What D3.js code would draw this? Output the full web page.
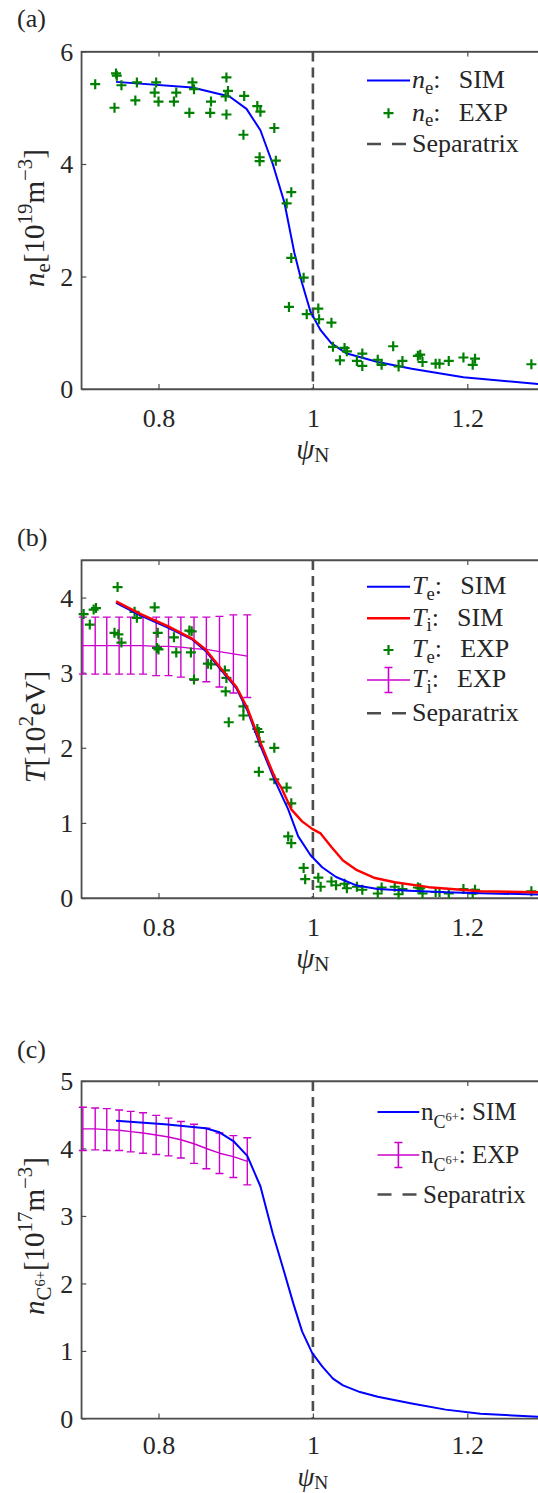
<!DOCTYPE html>
<html lang="en">
<head>
  <meta charset="utf-8">
  <title>Profiles SIM vs EXP</title>
  <script src="https://d3js.org/d3.v7.min.js"></script>
  <style>
    body { margin: 0; background: #fff; }
    svg text { font-family: "Liberation Serif", "DejaVu Serif", serif !important; fill: #262626; }
  </style>
</head>
<body>
  <svg id="fig" width="538" height="1493" font-family="Liberation Serif, DejaVu Serif, serif"></svg>

  <script>
    // ---- data: panel (a) electron density
    var neSimX = [0.745, 0.844, 0.892, 0.914, 0.932, 0.948, 0.963, 0.976, 0.986, 0.997, 1.010, 1.024, 1.044, 1.084, 1.128, 1.195, 1.300];
    var neSimY = [5.46, 5.36, 5.20, 4.98, 4.60, 4.00, 3.32, 2.42, 1.88, 1.37, 1.045, 0.81, 0.63, 0.48, 0.36, 0.21, 0.08];
    var neExpX = [0.718, 0.745, 0.746, 0.752, 0.743, 0.772, 0.770, 0.797, 0.795, 0.800, 0.823, 0.820, 0.840, 0.844, 0.846,
      0.868, 0.867, 0.888, 0.890, 0.887, 0.888, 0.911, 0.910, 0.928, 0.932, 0.950, 0.931, 0.931, 0.952, 0.972, 0.966,
      0.972, 0.988, 0.969, 0.992, 1.007, 1.008, 1.024, 1.026, 1.041, 1.044, 1.035, 1.057, 1.064, 1.064, 1.084, 1.089,
      1.104, 1.111, 1.116, 1.136, 1.139, 1.142, 1.159, 1.164, 1.176, 1.195, 1.210, 1.207, 1.283];
    var neExpY = [5.42, 5.61, 5.57, 5.40, 5.00, 5.45, 5.13, 5.45, 5.27, 5.11, 5.27, 5.11, 4.91, 5.45, 5.33,
      5.11, 4.91, 5.54, 5.30, 5.20, 4.88, 5.21, 4.52, 5.03, 4.93, 4.64, 4.12, 4.05, 4.06, 3.50, 3.30,
      2.33, 1.98, 1.46, 1.33, 1.43, 1.24, 1.18, 0.75, 0.73, 0.67, 0.51, 0.50, 0.63, 0.41, 0.52, 0.43,
      0.76, 0.40, 0.50, 0.59, 0.61, 0.48, 0.45, 0.45, 0.50, 0.56, 0.54, 0.43, 0.44];

    // ---- data: panel (b) temperatures
    var teSimX = [0.745, 0.777, 0.812, 0.844, 0.861, 0.879, 0.901, 0.915, 0.932, 0.950, 0.968, 0.981, 0.997, 1.012, 1.030, 1.057, 1.084, 1.125, 1.172, 1.230, 1.300];
    var teSimY = [3.93, 3.76, 3.60, 3.44, 3.29, 3.06, 2.79, 2.50, 2.03, 1.58, 1.18, 0.82, 0.57, 0.41, 0.28, 0.165, 0.12, 0.095, 0.077, 0.06, 0.045];
    var tiSimX = [0.745, 0.777, 0.812, 0.844, 0.861, 0.879, 0.901, 0.915, 0.932, 0.950, 0.959, 0.972, 0.986, 0.999, 1.010, 1.024, 1.039, 1.057, 1.079, 1.106, 1.150, 1.217, 1.300];
    var tiSimY = [3.95, 3.78, 3.62, 3.45, 3.31, 3.08, 2.81, 2.53, 2.07, 1.62, 1.47, 1.18, 1.02, 0.92, 0.86, 0.68, 0.50, 0.37, 0.27, 0.21, 0.144, 0.09, 0.075];
    var teExpX = [0.703, 0.711, 0.719, 0.716, 0.747, 0.743, 0.748, 0.752, 0.769, 0.772, 0.795, 0.799, 0.798, 0.800, 0.820,
      0.823, 0.840, 0.843, 0.842, 0.846, 0.864, 0.868, 0.886, 0.888, 0.887, 0.910, 0.910, 0.891, 0.928, 0.930, 0.931,
      0.950, 0.930, 0.950, 0.966, 0.972, 0.968, 0.972, 0.988, 0.990, 1.007, 1.010, 1.024, 1.030, 1.041, 1.044, 1.057,
      1.064, 1.084, 1.089, 1.106, 1.111, 1.116, 1.136, 1.139, 1.142, 1.159, 1.164, 1.176, 1.195, 1.210, 1.207, 1.283];
    var teExpY = [3.78, 3.64, 3.86, 3.84, 4.14, 3.53, 3.51, 3.40, 3.81, 3.73, 3.87, 3.53, 3.33, 3.31, 3.47,
      3.27, 3.56, 3.55, 3.27, 2.91, 3.12, 3.11, 3.03, 2.93, 2.75, 2.55, 2.43, 2.34, 2.25, 2.21, 2.08,
      2.00, 1.68, 1.58, 1.47, 1.26, 0.82, 0.73, 0.40, 0.25, 0.27, 0.15, 0.22, 0.17, 0.19, 0.13, 0.15,
      0.11, 0.06, 0.14, 0.15, 0.05, 0.12, 0.14, 0.13, 0.06, 0.08, 0.08, 0.06, 0.12, 0.11, 0.06, 0.09];
    var tiExpX = [0.702, 0.718, 0.733, 0.749, 0.764, 0.780, 0.797, 0.813, 0.829, 0.846, 0.862, 0.879, 0.897, 0.915];
    var tiExpY = [3.36, 3.36, 3.36, 3.36, 3.36, 3.36, 3.35, 3.35, 3.34, 3.32, 3.31, 3.28, 3.25, 3.22];
    var tiExpErr = [0.38, 0.38, 0.38, 0.38, 0.38, 0.38, 0.39, 0.39, 0.40, 0.42, 0.43, 0.47, 0.52, 0.55];

    // ---- data: panel (c) C6+ density
    var ncSimX = [0.745, 0.808, 0.861, 0.879, 0.897, 0.915, 0.932, 0.948, 0.961, 0.975, 0.986, 0.999, 1.012, 1.026, 1.039, 1.061, 1.084, 1.128, 1.172, 1.217, 1.300];
    var ncSimY = [4.41, 4.36, 4.30, 4.24, 4.11, 3.89, 3.44, 2.74, 2.24, 1.69, 1.29, 0.97, 0.77, 0.59, 0.49, 0.39, 0.32, 0.22, 0.13, 0.07, 0.02];
    var ncExpX = [0.702, 0.718, 0.733, 0.749, 0.764, 0.780, 0.797, 0.813, 0.829, 0.846, 0.862, 0.879, 0.897, 0.915];
    var ncExpY = [4.29, 4.29, 4.28, 4.27, 4.25, 4.23, 4.20, 4.17, 4.13, 4.07, 4.00, 3.93, 3.88, 3.81];
    var ncExpErr = [0.32, 0.31, 0.31, 0.30, 0.30, 0.30, 0.29, 0.28, 0.27, 0.29, 0.30, 0.30, 0.31, 0.35];

    // ---- ticks
    var xTicks = [0.8, 1, 1.2];
    var neTicks = [0, 2, 4, 6];
    var tTicks = [0, 1, 2, 3, 4];
    var ncTicks = [0, 1, 2, 3, 4, 5];

    var FS = 26;
    var FONT = "Liberation Serif, DejaVu Serif, serif";
    var BLUE = "#0000ff", RED = "#ff0000", GREEN = "#008000", MAG = "#cc00cc", SEP = "#4d4d4d";

    var svg = d3.select("#fig");
    var x = d3.scaleLinear().domain([0.7, 1.3]).range([81.3, 544.5]);
    var fmt = d3.format("~g");

    // text with italic / sub / superscript parts (sh = baseline shift in em)
    function rich(parent, px, py, size, parts) {
      var t = parent.append("text").attr("x", px).attr("y", py)
        .attr("font-family", FONT).style("font-size", size + "px");
      var cur = 0;
      parts.forEach(function(p) {
        var sh = (p.sh || 0) * size;
        var ts = t.append("tspan").text(p.t).attr("dy", sh - cur);
        cur = sh;
        if (p.s) ts.style("font-size", (p.s * size) + "px");
        if (p.i) ts.style("font-style", "italic");
      });
      return t;
    }

    function pairs(xs, ys) { return xs.map(function(v, i) { return [v, ys[i]]; }); }

    function panel(top, bottom, yMax, yTicks, tickDy, psiDy, psiSize) {
      var y = d3.scaleLinear().domain([0, yMax]).range([bottom, top]);
      var g = svg.append("g");
      // box
      g.append("rect").attr("x", x(0.7)).attr("y", top)
        .attr("width", x(1.3) - x(0.7)).attr("height", bottom - top)
        .attr("fill", "none").attr("stroke", SEP).attr("stroke-width", 1.3);
      var ax = g.append("g").attr("transform", "translate(0," + bottom + ")")
        .call(d3.axisBottom(x).tickValues(xTicks).tickSize(-5).tickSizeOuter(0).tickFormat(fmt));
      ax.selectAll("text").attr("y", tickDy).attr("dy", null);
      g.append("g").attr("transform", "translate(0," + top + ")")
        .call(d3.axisTop(x).tickValues(xTicks).tickSize(-5).tickSizeOuter(0).tickFormat(""));
      var ay = g.append("g").attr("transform", "translate(" + x(0.7) + ",0)")
        .call(d3.axisLeft(y).tickValues(yTicks).tickSize(-5).tickSizeOuter(0).tickPadding(8).tickFormat(fmt));
      ay.selectAll("text").attr("dy", "0.34em");
      g.selectAll("g").attr("font-family", FONT).attr("font-size", FS);
      g.selectAll(".domain").attr("stroke", SEP).attr("stroke-width", 1.3);
      g.selectAll(".tick line").attr("stroke", SEP).attr("stroke-width", 1.2);
      g.selectAll(".tick text").attr("fill", "#262626").style("font-size", FS + "px");
      // separatrix
      g.append("line").attr("x1", x(1)).attr("x2", x(1)).attr("y1", top).attr("y2", bottom)
        .attr("stroke", SEP).attr("stroke-width", 2.6).attr("stroke-dasharray", "10,6");
      // psi_N label
      rich(g, x(1), bottom + psiDy, psiSize, [{t: "\u03c8", i: 1}, {t: "N", sh: 0.12, s: 0.72}])
        .attr("text-anchor", "middle");
      return {g: g, y: y};
    }

    function curve(g, y, xs, ys, color, w) {
      g.append("path").datum(pairs(xs, ys))
        .attr("fill", "none").attr("stroke", color).attr("stroke-width", w)
        .attr("stroke-linejoin", "round")
        .attr("d", d3.line().x(function(d) { return x(d[0]); }).y(function(d) { return y(d[1]); }));
    }

    function plus(g, cx, cy) {
      g.append("path").attr("d", "M" + (cx - 5) + "," + cy + "h10M" + cx + "," + (cy - 5) + "v10")
        .attr("stroke", GREEN).attr("stroke-width", 2.2).attr("fill", "none");
    }

    function crosses(g, y, xs, ys) {
      xs.forEach(function(v, i) { plus(g, x(v), y(ys[i])); });
    }

    function errbar(g, y, xs, ys, es) {
      curve(g, y, xs, ys, MAG, 1.4);
      xs.forEach(function(v, i) {
        var cx = x(v), y1 = y(ys[i] + es[i]), y2 = y(ys[i] - es[i]);
        g.append("path").attr("d", "M" + cx + "," + y1 + "V" + y2 +
            "M" + (cx - 4) + "," + y1 + "h8M" + (cx - 4) + "," + y2 + "h8")
          .attr("stroke", MAG).attr("stroke-width", 1.4).attr("fill", "none");
      });
    }

    // legend helpers
    function legLine(g, x1, x2, yy, color, w, dash) {
      g.append("line").attr("x1", x1).attr("x2", x2).attr("y1", yy).attr("y2", yy)
        .attr("stroke", color).attr("stroke-width", w).attr("stroke-dasharray", dash || null);
    }
    function legErr(g, x1, x2, yy) {
      legLine(g, x1, x2, yy, MAG, 1.4);
      var cx = (x1 + x2) / 2;
      g.append("path").attr("d", "M" + cx + "," + (yy - 12.5) + "V" + (yy + 12.5) +
          "M" + (cx - 4) + "," + (yy - 12.5) + "h8M" + (cx - 4) + "," + (yy + 12.5) + "h8")
        .attr("stroke", MAG).attr("stroke-width", 1.6).attr("fill", "none");
    }
    var SP = ":\u2002\u2009";
    var DASH = "14,11";

    // ===== panel (a)
    var pa = panel(51.5, 389, 6, neTicks, 37.5, 70, 29);
    curve(pa.g, pa.y, neSimX, neSimY, BLUE, 2);
    crosses(pa.g, pa.y, neExpX, neExpY);
    rich(svg, 17, 27, FS, [{t: "(a)"}]);
    rich(svg, 0, 0, 29, [{t: "n", i: 1}, {t: "e", sh: 0.22, s: 0.72}, {t: "[10"}, {t: "19", sh: -0.4, s: 0.72},
      {t: "m"}, {t: "\u22123", sh: -0.4, s: 0.72}, {t: "]"}])
      .attr("text-anchor", "middle").attr("transform", "translate(44,218) rotate(-90)");
    legLine(svg, 367, 410, 80.6, BLUE, 2);
    rich(svg, 412, 88, FS, [{t: "n", i: 1}, {t: "e", sh: 0.22, s: 0.72}, {t: SP + "SIM"}]);
    plus(svg, 388.5, 113.2);
    rich(svg, 412, 120.5, FS, [{t: "n", i: 1}, {t: "e", sh: 0.22, s: 0.72}, {t: SP + "EXP"}]);
    legLine(svg, 367, 410, 144, SEP, 2.6, DASH);
    rich(svg, 412, 151.5, FS, [{t: "Separatrix"}]);

    // ===== panel (b)
    var pb = panel(560, 898, 4.5, tTicks, 37.5, 70, 29);
    errbar(pb.g, pb.y, tiExpX, tiExpY, tiExpErr);
    crosses(pb.g, pb.y, teExpX, teExpY);
    curve(pb.g, pb.y, teSimX, teSimY, BLUE, 2);
    curve(pb.g, pb.y, tiSimX, tiSimY, RED, 2.4);
    rich(svg, 17, 546, FS, [{t: "(b)"}]);
    rich(svg, 0, 0, 30, [{t: "T", i: 1}, {t: "[10"}, {t: "2", sh: -0.4, s: 0.72}, {t: "eV]"}])
      .attr("text-anchor", "middle").attr("transform", "translate(45,727) rotate(-90)");
    legLine(svg, 367, 410, 586.7, BLUE, 2);
    rich(svg, 412, 594, FS, [{t: "T", i: 1}, {t: "e", sh: 0.22, s: 0.72}, {t: SP + "SIM"}]);
    legLine(svg, 367, 410, 618.3, RED, 2.4);
    rich(svg, 412, 625.6, FS, [{t: "T", i: 1}, {t: "i", sh: 0.22, s: 0.72}, {t: SP + "SIM"}]);
    plus(svg, 388.5, 650);
    rich(svg, 412, 657.3, FS, [{t: "T", i: 1}, {t: "e", sh: 0.22, s: 0.72}, {t: SP + "EXP"}]);
    legErr(svg, 367, 410, 680);
    rich(svg, 412, 687.3, FS, [{t: "T", i: 1}, {t: "i", sh: 0.22, s: 0.72}, {t: SP + "EXP"}]);
    legLine(svg, 367, 410, 713.3, SEP, 2.6, DASH);
    rich(svg, 412, 720.6, FS, [{t: "Separatrix"}]);

    // ===== panel (c)
    var pc = panel(1081, 1418.4, 5, ncTicks, 36, 67.5, 27);
    errbar(pc.g, pc.y, ncExpX, ncExpY, ncExpErr);
    curve(pc.g, pc.y, ncSimX, ncSimY, BLUE, 2);
    rich(svg, 17, 1058, FS, [{t: "(c)"}]);
    rich(svg, 0, 0, 29, [{t: "n", i: 1}, {t: "C", sh: 0.25, s: 0.72}, {t: "6+", sh: 0.04, s: 0.5},
      {t: "[10"}, {t: "17", sh: -0.4, s: 0.72}, {t: "m"}, {t: "\u22123", sh: -0.4, s: 0.72}, {t: "]"}])
      .attr("text-anchor", "middle").attr("transform", "translate(44,1236) rotate(-90)");
    legLine(svg, 377.5, 419.3, 1112, BLUE, 2);
    rich(svg, 421, 1120, 25, [{t: "n"}, {t: "C", sh: 0.3, s: 0.72}, {t: "6+", sh: 0.05, s: 0.5}, {t: ": SIM"}]);
    legErr(svg, 377.5, 419.3, 1155);
    rich(svg, 421, 1163, 25, [{t: "n"}, {t: "C", sh: 0.3, s: 0.72}, {t: "6+", sh: 0.05, s: 0.5}, {t: ": EXP"}]);
    legLine(svg, 377.5, 419.3, 1194.5, SEP, 2.6, DASH);
    rich(svg, 423, 1202.5, 25, [{t: "Separatrix"}]);
  </script>
</body>
</html>
